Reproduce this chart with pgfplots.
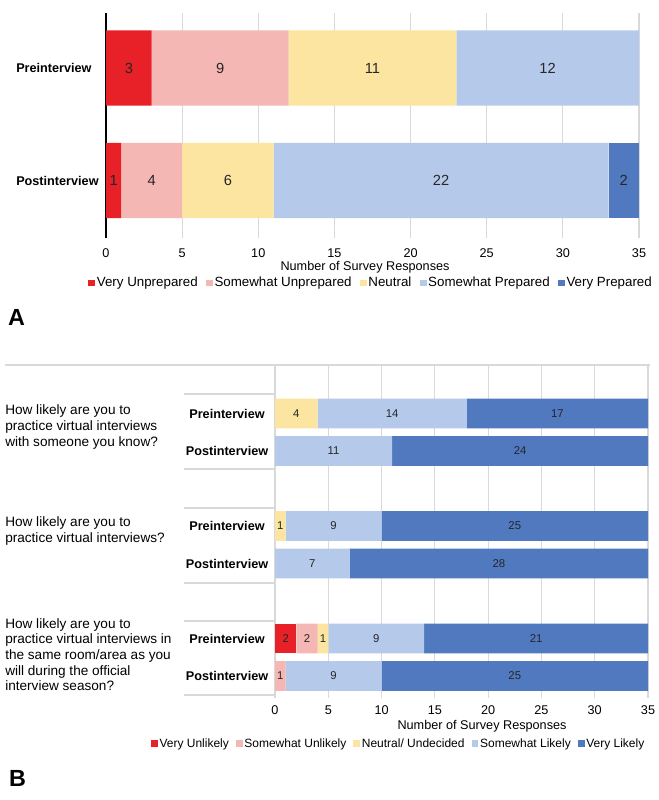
\documentclass[border=0pt]{standalone}
\usepackage{pgfplots}
\pgfplotsset{compat=1.18}
\usepackage{pgfplotstable}
\usepackage{fontspec}
\setmainfont{Liberation Sans}
\definecolor{cVU}{RGB}{232,32,40}
\definecolor{cSU}{RGB}{244,183,179}
\definecolor{cN}{RGB}{251,229,160}
\definecolor{cSP}{RGB}{181,202,234}
\definecolor{cVP}{RGB}{80,121,192}
\definecolor{gridc}{RGB}{217,217,217}

\pgfplotstableread{
pos VU SU N SP VP
1 3 9 11 12 0
0 1 4 6 22 2
}\dataA
\pgfplotstableread{
pos VU SU N SL VL
7 0 0 4 14 17
6 0 0 0 11 24
4 0 0 1 9 25
3 0 0 0 7 28
1 2 2 1 9 21
0 0 1 0 9 25
}\dataB

\pgfplotsset{
  segs/.style={
    xbar stacked,
    scale only axis,
    xmin=0, xmax=35,
    xtick={0,5,...,35},
    xmajorgrids, major grid style={gridc, line width=0.8pt},
    axis line style={draw=none},
    major tick length=0pt,
    /pgf/number format/assume math mode=true,
    ticklabel style={font=\fontsize{9.5}{11}\selectfont},
    xlabel={Number of Survey Responses},
    xlabel style={font=\fontsize{9.5}{11}\selectfont, anchor=center},
    point meta=explicit,
    nodes near coords={\pgfmathfloatifflags{\pgfplotspointmeta}{0}{}{\pgfmathprintnumber{\pgfplotspointmeta}}},
    every node near coord/.append style={anchor=center, text=black!85},
    legend columns=-1,
    legend style={draw=none, fill=none,
      /tikz/every even column/.append style={column sep=5pt}, nodes={inner xsep=1.2pt}},
    legend image code/.code={\fill[##1] (0pt,-2.6pt) rectangle (5.2pt,2.6pt);},
    every axis plot/.append style={draw=none},
  },
}

\begin{document}
\begin{tikzpicture}
\path[use as bounding box] (0pt,0pt) rectangle (494.25pt,-600pt);

% ---------------- Panel A ----------------
\begin{axis}[segs,
  at={(79.5pt,-178.5pt)}, anchor=south west,
  width=399.75pt, height=168.75pt,
  ymin=-0.511, ymax=1.489,
  bar width=0.667,
  ytick={0,1}, yticklabels={Postinterview,Preinterview},
  yticklabel style={font=\bfseries\fontsize{9.5}{11}\selectfont, anchor=west, inner sep=0pt, xshift=-67.5pt},
  xticklabel style={anchor=center, yshift=-11.25pt},
  xlabel style={at={(axis description cs:0.486,-0.129)}},
  nodes near coords style={font=\fontsize{11}{13}\selectfont},
  extra x ticks={0}, extra x tick labels={},
  extra x tick style={major grid style={black, line width=0.8pt}},
  legend style={at={(axis description cs:0.497,-0.2)}, anchor=center, font=\fontsize{10}{12}\selectfont},
]
\addplot[fill=cVU] table[x=VU, y=pos, meta=VU] {\dataA};
\addplot[fill=cSU] table[x=SU, y=pos, meta=SU] {\dataA};
\addplot[fill=cN]  table[x=N,  y=pos, meta=N]  {\dataA};
\addplot[fill=cSP] table[x=SP, y=pos, meta=SP] {\dataA};
\addplot[fill=cVP] table[x=VP, y=pos, meta=VP] {\dataA};
\legend{Very Unprepared, Somewhat Unprepared, Neutral, Somewhat Prepared, Very Prepared}
\end{axis}
\node[font=\bfseries\fontsize{17.5}{20}\selectfont] at (12.4pt,-237.75pt) {A};

% ---------------- Panel B ----------------
\begin{axis}[segs,
  at={(206.25pt,-523.5pt)}, anchor=south west,
  width=279.75pt, height=249.75pt,
  ymin=-0.587, ymax=8.293,
  bar width=0.787,
  ytick={0,1,3,4,6,7},
  yticklabels={Postinterview,Preinterview,Postinterview,Preinterview,Postinterview,Preinterview},
  yticklabel style={font=\bfseries\fontsize{9.5}{11}\selectfont, anchor=center, inner sep=0pt, xshift=-36pt},
  xticklabel style={anchor=center, yshift=-9pt},
  xlabel style={at={(axis description cs:0.555,-0.084)}},
  nodes near coords style={font=\fontsize{8.5}{10}\selectfont},
  legend style={at={(axis description cs:0.331,-0.138)}, anchor=center, font=\fontsize{9}{11}\selectfont,
    /tikz/every even column/.append style={column sep=4pt}},
]
\addplot[fill=cVU] table[x=VU, y=pos, meta=VU] {\dataB};
\addplot[fill=cSU] table[x=SU, y=pos, meta=SU] {\dataB};
\addplot[fill=cN]  table[x=N,  y=pos, meta=N]  {\dataB};
\addplot[fill=cSP] table[x=SL, y=pos, meta=SL] {\dataB};
\addplot[fill=cVP] table[x=VL, y=pos, meta=VL] {\dataB};
\legend{Very Unlikely, Somewhat Unlikely, Neutral/ Undecided, Somewhat Likely, Very Likely}
\end{axis}

% frame lines of panel B
\draw[gridc, line width=1.2pt] (3.75pt,-273.75pt) -- (487.5pt,-273.75pt);
\foreach \yy in {-295.5,-351.75,-381,-437.25,-465.75,-521.25}
  \draw[gridc, line width=1pt] (138pt,\yy pt) -- (206.25pt,\yy pt);

% question labels
\begin{scope}[every node/.style={anchor=west, align=left, inner sep=0pt, font=\fontsize{10.2}{11.7}\selectfont}]
\node at (3.75pt,-320.25pt) {How likely are you to\\practice virtual interviews\\with someone you know?};
\node at (3.75pt,-398.25pt) {How likely are you to\\practice virtual interviews?};
\node at (3.75pt,-490.9pt) {How likely are you to\\practice virtual interviews in\\the same room/area as you\\will during the official\\interview season?};
\end{scope}
\node[font=\bfseries\fontsize{17.5}{20}\selectfont] at (13.1pt,-583.5pt) {B};
\end{tikzpicture}
\end{document}
